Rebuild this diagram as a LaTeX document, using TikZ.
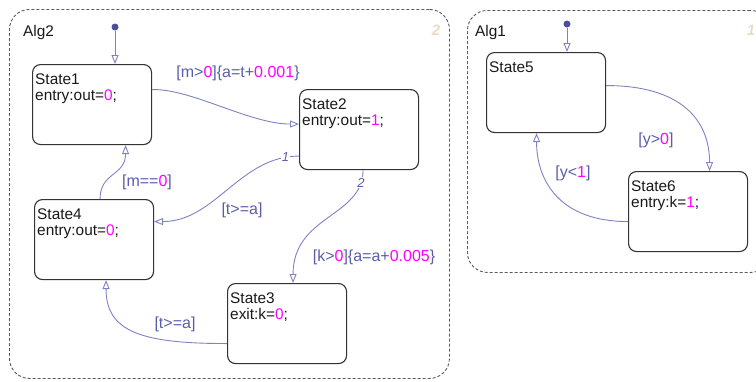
\documentclass[tikz,border=0pt]{standalone}
\usepackage{fontspec}
\setmainfont{Liberation Sans}
\usetikzlibrary{arrows.meta}
\definecolor{tcol}{HTML}{7E82C2}
\definecolor{lcol}{HTML}{5A5EA8}
\definecolor{mag}{HTML}{FF00FF}
\definecolor{beige}{HTML}{E9DCC6}
\definecolor{dotcol}{HTML}{4A4E9C}
\definecolor{sbord}{HTML}{333333}
\definecolor{cbord}{HTML}{5A5A5A}
\newcommand{\mg}[1]{\textcolor{mag}{#1}}
\begin{document}
\begin{tikzpicture}[x=1pt,y=-1pt,
  stbox/.style={draw=sbord, line width=1.1pt, rounded corners=8pt, minimum width=119pt, minimum height=80pt, anchor=north west, inner sep=0pt},
  chart/.style={draw=cbord, line width=0.9pt, dash pattern=on 3pt off 2pt, rounded corners=20pt, anchor=north west, inner sep=0pt},
  stxt/.style={anchor=base west, inner sep=0pt, font=\fontsize{15.4}{17}\selectfont, text=black!90},
  tlbl/.style={inner sep=0pt, font=\fontsize{16}{18}\selectfont, text=lcol},
  trans/.style={draw=tcol, line width=0.9pt, -{Triangle[open, length=9pt, width=7pt]}},
  ord/.style={inner sep=1pt, fill=white, font=\fontsize{13}{14}\selectfont\itshape, text=lcol},
  cnum/.style={font=\fontsize{15}{16}\selectfont\bfseries\itshape, text=beige, inner sep=0pt},
  dotnode/.style={circle, fill=dotcol, inner sep=0pt, minimum size=7pt},
  ]
\useasboundingbox (0,0) rectangle (756,381);
\begin{scope}
\clip (0,0) rectangle (756,381);
\node[chart, minimum width=440pt, minimum height=369pt] (alg2) at (9,9) {};
\node[chart, minimum width=303pt, minimum height=262pt] (alg1) at (467,10) {};
\end{scope}
\node[stxt] (alg2t) at (23,36) {Alg2};
\node[stxt] (alg1t) at (475,36) {Alg1};
\node[cnum] (alg2n) at (436,30) {2};
\node[cnum] (alg1n) at (751,30) {1};

% states
\node[stbox] (s1) at (32,64) {};
\node[stbox] (s2) at (299,89) {};
\node[stbox] (s4) at (34,199) {};
\node[stbox] (s3) at (227,283) {};
\node[stbox] (s5) at (486,52) {};
\node[stbox] (s6) at (628,171) {};

\node[stxt] (s1n) at (35,84) {State1};
\node[stxt] (s1a) at (35,100) {entry:out=\mg{0};};
\node[stxt] (s2n) at (302,109) {State2};
\node[stxt] (s2a) at (302,125) {entry:out=\mg{1};};
\node[stxt] (s4n) at (37,219) {State4};
\node[stxt] (s4a) at (37,235) {entry:out=\mg{0};};
\node[stxt] (s3n) at (230,303) {State3};
\node[stxt] (s3a) at (230,319) {exit:k=\mg{0};};
\node[stxt] (s5n) at (489,72) {State5};
\node[stxt] (s6n) at (631,191) {State6};
\node[stxt] (s6a) at (631,207) {entry:k=\mg{1};};

% default transitions
\node[dotnode] (d2) at (115,27) {};
\node[dotnode] (d1) at (567,24) {};
\draw[trans] (d2) -- (d2.center |- s1.north);
\draw[trans] (d1) -- (d1.center |- s5.north);

% transitions
\draw[trans] ([yshift=15pt]s1.east) .. controls +(39,-1) and +(-49,0) .. ([yshift=5.5pt]s2.west);
\draw[trans] ([yshift=-26.5pt]s2.west) .. controls +(-59,0) and +(61,0) .. ([yshift=18pt]s4.east) node[ord, pos=0.08] (o1) {1};
\draw[trans] ([xshift=4pt]s2.south) .. controls +(0,47) and +(0,-68) .. ([xshift=6pt]s3.north) node[ord, pos=0.1] (o2) {2};
\draw[trans] ([yshift=-20pt]s3.west) .. controls +(-87,0) and +(0,51) .. ([xshift=12pt]s4.south);
\draw[trans] ([xshift=6pt]s4.north) .. controls +(0,-27) and +(0,31) .. ([xshift=33.5pt]s1.south);
\draw[trans] ([yshift=7pt]s5.east) .. controls +(75,0) and +(0,-51) .. ([xshift=21.5pt]s6.north);
\draw[trans] ([yshift=-10pt]s6.west) .. controls +(-68,0) and +(0,48) .. ([xshift=-9.5pt]s5.south);

% labels
\node[tlbl] (l12) at (238,73) {[m>\mg{0}]\{a=t+\mg{0.001}\}};
\node[tlbl] (l24) at (242,210) {[t>=a]};
\node[tlbl] (l23) at (374,257) {[k>\mg{0}]\{a=a+\mg{0.005}\}};
\node[tlbl] (l34) at (175,324) {[t>=a]};
\node[tlbl] (l41) at (147,182) {[m==\mg{0}]};
\node[tlbl] (l56) at (656,140) {[y>\mg{0}]};
\node[tlbl] (l65) at (573,173) {[y<\mg{1}]};
\end{tikzpicture}
\end{document}
